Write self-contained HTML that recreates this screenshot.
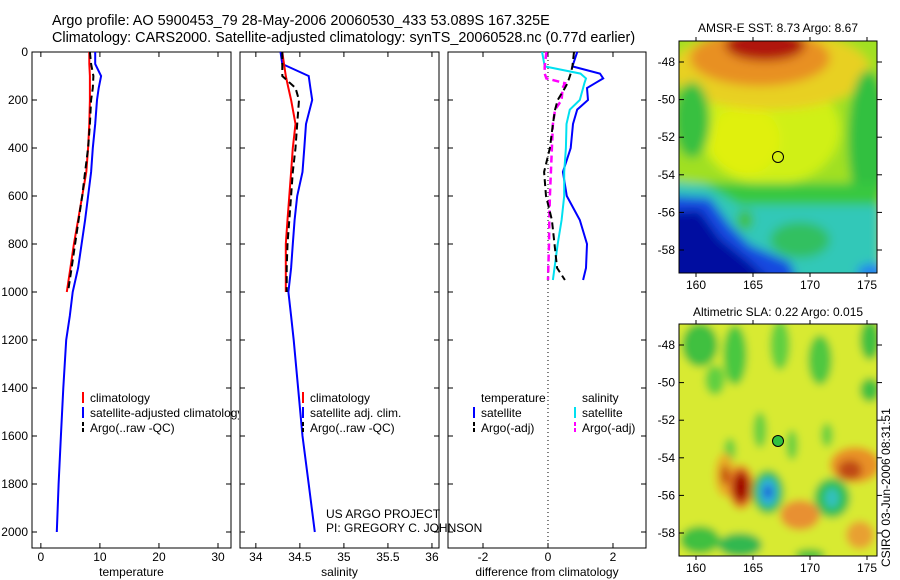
<!DOCTYPE html>
<html><head><meta charset="utf-8"><style>
body{margin:0;background:#fff;}
svg{display:block;font-family:"Liberation Sans",sans-serif;}
</style></head><body>
<svg id="c" width="900" height="580" viewBox="0 0 900 580" xmlns="http://www.w3.org/2000/svg">
<defs>
<filter id="bl" x="-10%" y="-10%" width="120%" height="120%"><feGaussianBlur stdDeviation="5"/></filter>
<filter id="bl2" x="-10%" y="-10%" width="120%" height="120%"><feGaussianBlur stdDeviation="4"/></filter>
<clipPath id="cm1"><rect x="679" y="41" width="198" height="232"/></clipPath>
<clipPath id="cm2"><rect x="679" y="324" width="198" height="232"/></clipPath>
<clipPath id="cp1"><rect x="0" y="0" width="239" height="580"/></clipPath>
</defs>
<text x="52" y="25" font-size="14.4">Argo profile: AO 5900453_79 28-May-2006 20060530_433 53.089S 167.325E</text>
<text x="52" y="42" font-size="14.4">Climatology: CARS2000. Satellite-adjusted climatology: synTS_20060528.nc (0.77d earlier)</text>

<g clip-path="url(#cm1)">
<g filter="url(#bl)">
<rect x="660" y="20" width="240" height="270" fill="#a0e020"/>
<ellipse cx="770" cy="130" rx="70" ry="55" fill="#d0f018"/>
<ellipse cx="745" cy="140" rx="35" ry="35" fill="#e0f010"/>
<ellipse cx="770" cy="70" rx="100" ry="40" fill="#e8d020"/>
<ellipse cx="760" cy="58" rx="70" ry="28" fill="#e89020"/>
<ellipse cx="765" cy="45" rx="40" ry="16" fill="#b01808"/>
<ellipse cx="692" cy="120" rx="18" ry="38" fill="#38c040"/>
<ellipse cx="868" cy="140" rx="20" ry="70" fill="#30c040"/>
<rect x="679" y="183" width="200" height="25" fill="#38c840"/>
<polygon points="660,180 705,185 740,205 880,205 880,290 660,290" fill="#30c8b8"/>
<ellipse cx="800" cy="240" rx="30" ry="18" fill="#30c060"/>
<ellipse cx="745" cy="220" rx="8" ry="10" fill="#40c040"/>
<polygon points="660,195 710,198 730,225 750,245 790,262 800,290 660,290" fill="#1848e0"/>
<polygon points="660,212 700,210 720,238 750,262 780,290 660,290" fill="#0010a0"/>
<ellipse cx="872" cy="272" rx="15" ry="8" fill="#2080f0"/>
</g>
</g>
<circle cx="778" cy="157" r="5.5" fill="none" stroke="#000" stroke-width="1"/>
<rect x="679" y="41" width="198" height="232" fill="none" stroke="#000"/>
<text x="778" y="32" font-size="12" text-anchor="middle">AMSR-E SST: 8.73 Argo: 8.67</text>

<g clip-path="url(#cm2)">
<g filter="url(#bl2)">
<rect x="660" y="310" width="240" height="260" fill="#d8ea30"/>
<ellipse cx="700" cy="345" rx="18" ry="22" fill="#40c040"/>
<ellipse cx="735" cy="355" rx="12" ry="30" fill="#48c840"/>
<ellipse cx="780" cy="345" rx="10" ry="25" fill="#60d040"/>
<ellipse cx="820" cy="360" rx="12" ry="25" fill="#50c840"/>
<ellipse cx="870" cy="340" rx="10" ry="20" fill="#40c040"/>
<ellipse cx="715" cy="380" rx="10" ry="15" fill="#60d040"/>
<ellipse cx="870" cy="390" rx="10" ry="12" fill="#40c040"/>
<ellipse cx="760" cy="430" rx="7" ry="18" fill="#68d040"/>
<ellipse cx="730" cy="450" rx="6" ry="12" fill="#68d040"/>
<ellipse cx="792" cy="445" rx="6" ry="15" fill="#68d040"/>
<ellipse cx="827" cy="435" rx="6" ry="12" fill="#68d040"/>
<ellipse cx="725" cy="475" rx="10" ry="22" fill="#e8b028"/>
<ellipse cx="725" cy="475" rx="4" ry="10" fill="#c04010"/>
<ellipse cx="741" cy="487" rx="13" ry="22" fill="#e07020"/>
<ellipse cx="741" cy="487" rx="8" ry="15" fill="#a00000"/>
<ellipse cx="768" cy="492" rx="16" ry="22" fill="#30c050"/>
<ellipse cx="768" cy="492" rx="9" ry="14" fill="#30b0e0"/>
<ellipse cx="768" cy="492" rx="4" ry="6" fill="#1040d0"/>
<ellipse cx="855" cy="465" rx="25" ry="18" fill="#e89028"/>
<ellipse cx="850" cy="470" rx="12" ry="10" fill="#c04818"/>
<ellipse cx="832" cy="498" rx="18" ry="20" fill="#30c050"/>
<ellipse cx="832" cy="498" rx="7" ry="10" fill="#30c0c0"/>
<ellipse cx="800" cy="515" rx="20" ry="15" fill="#e89030"/>
<ellipse cx="700" cy="540" rx="20" ry="14" fill="#40c040"/>
<ellipse cx="740" cy="545" rx="22" ry="12" fill="#30b850"/>
<ellipse cx="860" cy="535" rx="14" ry="14" fill="#e8a030"/>
<ellipse cx="810" cy="555" rx="15" ry="6" fill="#40c040"/>
</g>
</g>
<circle cx="778" cy="441" r="5.5" fill="#30c040" stroke="#000" stroke-width="1"/>
<rect x="679" y="324" width="198" height="232" fill="none" stroke="#000"/>
<text x="778" y="316" font-size="12" text-anchor="middle">Altimetric SLA: 0.22 Argo: 0.015</text>
<text transform="translate(890,567) rotate(-90)" font-size="12">CSIRO 03-Jun-2006 08:31:51</text>

<text x="326" y="518" font-size="12">US ARGO PROJECT</text>
<text x="326" y="532" font-size="12">PI: GREGORY C. JOHNSON</text>
<g id="plots"></g>
</svg>
<script>
// depth grids
const depthShallow = [0,50,100,150,200,300,400,500,600,700,800,900,1000];
const depthDeep = [0,50,100,150,200,300,400,500,600,700,800,900,1000,1100,1200,1400,1600,1800,2000];
// temperature
const climT = [8.2,8.2,8.3,8.3,8.3,8.2,8.0,7.7,7.0,6.3,5.6,5.0,4.4];
const argoT = [8.3,8.5,8.9,8.8,8.5,8.3,8.0,7.5,7.0,6.4,5.8,5.2,4.6];
const satT = [9.2,9.2,10.2,9.8,9.5,9.2,8.8,8.5,8.0,7.5,6.9,6.3,5.4,4.9,4.3,3.8,3.4,3.0,2.7];
// salinity
const climS = [34.30,34.32,34.34,34.37,34.40,34.45,34.42,34.40,34.38,34.36,34.34,34.34,34.34];
const argoS = [34.30,34.30,34.30,34.45,34.49,34.47,34.45,34.42,34.40,34.38,34.36,34.35,34.35];
const satS = [34.28,34.30,34.60,34.62,34.64,34.57,34.55,34.53,34.47,34.44,34.42,34.40,34.37,34.40,34.43,34.48,34.53,34.60,34.67];
// differences
const diffDepth = [0,60,90,110,130,150,200,240,300,400,500,600,700,800,900,950];
const dSatT = [0.9,0.75,1.6,1.7,1.45,1.2,1.23,0.9,0.77,0.7,0.46,0.58,0.98,1.2,1.17,1.08];
const dSatS = [-0.18,-0.1,1.0,1.17,1.12,1.08,0.98,0.67,0.57,0.55,0.5,0.5,0.42,0.3,0.2,0.15];
const dArgoS = [-0.05,-0.1,-0.1,-0.05,0.52,0.45,0.42,0.22,0.15,0.12,0.09,0.06,0.04,0.03,0.01,0.0];
const dArgoT = [0.8,0.75,0.7,0.65,0.6,0.52,0.3,0.22,0.15,0.06,-0.12,-0.06,0.12,0.2,0.28,0.52];
const depthTicks = [0,200,400,600,800,1000,1200,1400,1600,1800,2000];
const tTicks = [0,10,20,30];
const sTicks = [34,34.5,35,35.5,36];
const dTicks = [-2,0,2];
const latTicks = [-48,-50,-52,-54,-56,-58];
const lonTicks = [160,165,170,175];

const NS="http://www.w3.org/2000/svg";
const root=document.getElementById('plots');
function mk(tag,attrs,parent){const e=document.createElementNS(NS,tag);for(const k in attrs)e.setAttribute(k,attrs[k]);(parent||root).appendChild(e);return e;}
const Y0=52,Y1=548;
function yDepth(d){return 52+d*0.24;}
const panels=[
 {x0:32,x1:231,v0:-1.5,v1:32.2,ticks:tTicks,title:'temperature',name:'temperature-panel'},
 {x0:240,x1:439,v0:33.82,v1:36.08,ticks:sTicks,title:'salinity',name:'salinity-panel'},
 {x0:448,x1:646,v0:-3.077,v1:3.016,ticks:dTicks,title:'difference from climatology',name:'difference-panel'}
];
function xf(p){return v=>p.x0+(v-p.v0)/(p.v1-p.v0)*(p.x1-p.x0);}
panels.forEach((p,i)=>{
 const g=mk('g',{});
 
 
 const r=mk('rect',{x:p.x0,y:Y0,width:p.x1-p.x0,height:Y1-Y0,fill:'none',stroke:'#000','stroke-width':1},g);
 
 
 const X=xf(p);
 p.ticks.forEach(t=>{
  const x=X(t);
  mk('line',{x1:x,x2:x,y1:Y0,y2:Y0+5,stroke:'#000'},g);
  mk('line',{x1:x,x2:x,y1:Y1,y2:Y1-5,stroke:'#000'},g);
  const tx=mk('text',{x:x,y:561,'font-size':12,'text-anchor':'middle'},g);
  tx.textContent=t;
  
  
 });
 depthTicks.forEach(d=>{
  const y=yDepth(d);
  mk('line',{x1:p.x0,x2:p.x0+5,y1:y,y2:y,stroke:'#000'},g);
  mk('line',{x1:p.x1,x2:p.x1-5,y1:y,y2:y,stroke:'#000'},g);
  if(i===0){const tx=mk('text',{x:28,y:y+4,'font-size':12,'text-anchor':'end'},g);tx.textContent=d;
   
   }
 });
 const at=mk('text',{x:(p.x0+p.x1)/2,y:576,'font-size':12,'text-anchor':'middle'},g);
 at.textContent=p.title;
 
 
});
function line(pi,vals,depths,color,dash,w,name){
 const X=xf(panels[pi]);
 const pts=vals.map((v,k)=>X(v).toFixed(1)+','+yDepth(depths[k]).toFixed(1)).join(' ');
 const e=mk('polyline',{points:pts,fill:'none',stroke:color,'stroke-width':w||2,'stroke-dasharray':dash||'none'});
 
 
}
const zx=xf(panels[2])(0);
const zl=mk('line',{x1:zx,x2:zx,y1:Y0,y2:Y1,stroke:'#000','stroke-dasharray':'1,3'});


line(0,satT,depthDeep,'#0000ff','',2,'satellite-temperature-line');
line(0,climT,depthShallow,'#ff0000','',2,'climatology-temperature-line');
line(0,argoT,depthShallow,'#000','7,4',2,'argo-temperature-line');
line(1,satS,depthDeep,'#0000ff','',2,'satellite-salinity-line');
line(1,climS,depthShallow,'#ff0000','',2,'climatology-salinity-line');
line(1,argoS,depthShallow,'#000','7,4',2,'argo-salinity-line');
line(2,dSatT,diffDepth,'#0000ff','',2,'satellite-temperature-diff-line');
line(2,dSatS,diffDepth,'#00e0f0','',2,'satellite-salinity-diff-line');
line(2,dArgoS,diffDepth,'#ff00ff','7,4',2.5,'argo-salinity-diff-line');
line(2,dArgoT,diffDepth,'#000','7,4',2,'argo-temperature-diff-line');
function leg(x,y,color,dash,label,name,clip){
 const l=mk('line',{x1:x,x2:x,y1:y-10,y2:y+1,stroke:color,'stroke-width':2,'stroke-dasharray':dash||'none'});
 
 
 const t=mk('text',{x:x+7,y:y,'font-size':12});
 if(clip)t.setAttribute('clip-path','url(#cp1)');
 t.textContent=label;
 
 
}
leg(83,402,'#ff0000','','climatology','legend-climatology-t',1);
leg(83,417,'#0000ff','','satellite-adjusted climatology','legend-satellite-t',1);
leg(83,432,'#000','4,2','Argo(..raw -QC)','legend-argo-t',1);
leg(303,402,'#ff0000','','climatology','legend-climatology-s');
leg(303,417,'#0000ff','','satellite adj. clim.','legend-satellite-s');
leg(303,432,'#000','4,2','Argo(..raw -QC)','legend-argo-s');
const tt=mk('text',{x:481,y:402,'font-size':12});tt.textContent='temperature';


const st=mk('text',{x:582,y:402,'font-size':12});st.textContent='salinity';


leg(474,417,'#0000ff','','satellite','legend-satellite-tdiff');
leg(474,432,'#000','4,2','Argo(-adj)','legend-argo-tdiff');
leg(575,417,'#00e0f0','','satellite','legend-satellite-sdiff');
leg(575,432,'#ff00ff','4,2','Argo(-adj)','legend-argo-sdiff');
// map axes
[[41,273],[324,556]].forEach(([t,b])=>{
 latTicks.forEach(v=>{
  const y=t+21+(-48-v)*18.8;
  mk('line',{x1:679,x2:684,y1:y,y2:y,stroke:'#000'});
  mk('line',{x1:877,x2:882,y1:y,y2:y,stroke:'#000'});
  const tx=mk('text',{x:675,y:y+4,'font-size':12,'text-anchor':'end'});tx.textContent=v;
  
  
 });
 lonTicks.forEach(v=>{
  const x=696+(v-160)*11.4;
  mk('line',{x1:x,x2:x,y1:t,y2:t-4,stroke:'#000'});
  mk('line',{x1:x,x2:x,y1:b,y2:b+4,stroke:'#000'});
  const tx=mk('text',{x:x,y:b+16,'font-size':12,'text-anchor':'middle'});tx.textContent=v;
  
  
 });
});
</script>
</body></html>
